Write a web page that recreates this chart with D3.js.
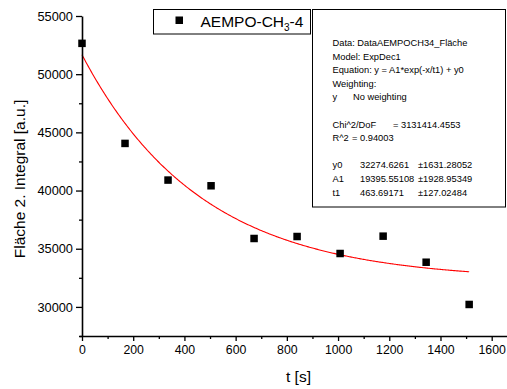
<!DOCTYPE html>
<html>
<head>
<meta charset="utf-8">
<script src="https://cdn.jsdelivr.net/npm/d3@7"></script>
<style>
  html, body { margin: 0; padding: 0; background: #fff; }
  svg { display: block; }
  text { font-family: Arial, "Liberation Sans", sans-serif; fill: #000; }
</style>
</head>
<body>
<svg id="chart" width="507" height="389"></svg>
<script>
// Measured decay series: time (s) and integrated area
const times  = [0, 168, 336, 504, 672, 840, 1008, 1176, 1344, 1512];
const values = [52650, 44050, 40900, 40410, 35880, 36050, 34590, 36080, 33840, 30210];

// ExpDec1 fit results: y = A1*exp(-x/t1) + y0
const paramNames  = ["y0", "A1", "t1"];
const paramValues = [32274.6261, 19395.55108, 463.69171];
const paramErrors = [1631.28052, 1928.95349, 127.02484];
const paramText   = ["32274.6261", "19395.55108", "463.69171"];
const errorText   = ["±1631.28052", "±1928.95349", "±127.02484"];

// Axis ticks
const xMajorTicks = [0, 200, 400, 600, 800, 1000, 1200, 1400, 1600];
const xMinorTicks = [100, 300, 500, 700, 900, 1100, 1300, 1500, 1700];
const yMajorTicks = [30000, 35000, 40000, 45000, 50000, 55000];
const yMinorTicks = [27500, 32500, 37500, 42500, 47500, 52500];

const seriesName = "AEMPO-CH";
const headerLines = [
  "Data: DataAEMPOCH34_Fläche",
  "Model: ExpDec1",
  "Equation: y = A1*exp(-x/t1) + y0",
  "Weighting:"
];

const svg = d3.select("#chart");

const x = d3.scaleLinear().domain([0, 1700]).range([82, 517.3]);
const y = d3.scaleLinear().domain([27500, 55000]).range([336, 16]);

// Fit curve
const [y0, A1, t1] = paramValues;
const tMax = d3.max(times);
const fitPts = d3.range(0, tMax + 0.001, 4).map(t => [t, A1 * Math.exp(-t / t1) + y0]);
svg.append("path")
  .datum(fitPts)
  .attr("fill", "none")
  .attr("stroke", "#ff0000")
  .attr("stroke-width", 1.1)
  .attr("d", d3.line().x(d => x(d[0])).y(d => y(d[1])));

// Data markers
const sq = 7.5;
svg.append("g").selectAll("rect")
  .data(times.map((t, i) => [t, values[i]]))
  .join("rect")
  .attr("x", d => x(d[0]) - sq / 2)
  .attr("y", d => y(d[1]) - sq / 2)
  .attr("width", sq)
  .attr("height", sq)
  .attr("fill", "#000");

// Axes
function styleAxis(g) {
  g.selectAll("path.domain").attr("stroke", "#000").attr("stroke-width", 1.6);
  g.selectAll(".tick line").attr("stroke", "#000").attr("stroke-width", 1.3);
  g.selectAll(".tick text").attr("fill", "#000");
}

const yAxis = svg.append("g").attr("transform", "translate(82,0)")
  .call(d3.axisLeft(y).tickValues(yMajorTicks).tickSize(6).tickSizeOuter(0)
    .tickPadding(3).tickFormat(d3.format("d")))
  .attr("font-size", 12.8)
  .attr("font-family", "Arial, 'Liberation Sans', sans-serif");
styleAxis(yAxis);
const yMinor = svg.append("g").attr("transform", "translate(82,0)")
  .call(d3.axisLeft(y).tickValues(yMinorTicks).tickSize(3).tickSizeOuter(0).tickFormat(""));
yMinor.select("path.domain").remove();
styleAxis(yMinor);

const xAxis = svg.append("g").attr("transform", "translate(0,336)")
  .call(d3.axisBottom(x).tickValues(xMajorTicks).tickSize(5).tickSizeOuter(0)
    .tickPadding(4).tickFormat(d3.format("d")))
  .attr("font-size", 12.3)
  .attr("font-family", "Arial, 'Liberation Sans', sans-serif");
xAxis.select("path.domain").attr("d", "M79.5,0.5H520");
styleAxis(xAxis);
const xMinor = svg.append("g").attr("transform", "translate(0,336)")
  .call(d3.axisBottom(x).tickValues(xMinorTicks).tickSize(3).tickSizeOuter(0).tickFormat(""));
xMinor.select("path.domain").remove();
styleAxis(xMinor);

// Axis titles
svg.append("text")
  .attr("transform", "translate(25,179) rotate(-90)")
  .attr("text-anchor", "middle")
  .attr("font-size", 15.5)
  .text("Fläche 2. Integral [a.u.]");

svg.append("text")
  .attr("x", 298.5).attr("y", 382)
  .attr("text-anchor", "middle")
  .attr("font-size", 15.5)
  .text("t [s]");

// Fit results box
svg.append("rect")
  .attr("x", 312.5).attr("y", 9.5).attr("width", 193).attr("height", 197.5)
  .attr("fill", "#fff").attr("stroke", "#000").attr("stroke-width", 1);

const stats = svg.append("g").attr("font-size", 9.3).attr("fill", "#1a1a1a");
const lh = 13.6, top0 = 46;
const c1 = 332.5, c2 = 360, c3 = 418;
headerLines.forEach((s, i) => {
  stats.append("text").attr("x", c1).attr("y", top0 + i * lh).text(s);
});
stats.append("text").attr("x", c1).attr("y", top0 + 4 * lh).text("y");
stats.append("text").attr("x", 353).attr("y", top0 + 4 * lh).text("No weighting");
stats.append("text").attr("x", c1).attr("y", top0 + 6 * lh).text("Chi^2/DoF");
stats.append("text").attr("x", 393).attr("y", top0 + 6 * lh).text("= 3131414.4553");
stats.append("text").attr("x", c1).attr("y", top0 + 7 * lh).text("R^2");
stats.append("text").attr("x", 352).attr("y", top0 + 7 * lh).text("=  0.94003");
paramNames.forEach((n, i) => {
  const yy = top0 + (9 + i) * lh;
  stats.append("text").attr("x", c1).attr("y", yy).text(n);
  stats.append("text").attr("x", c2).attr("y", yy).text(paramText[i]);
  stats.append("text").attr("x", c3).attr("y", yy).text(errorText[i]);
});

// Legend
svg.append("rect")
  .attr("x", 153.5).attr("y", 9.5).attr("width", 157).attr("height", 24.5)
  .attr("fill", "#fff").attr("stroke", "#000").attr("stroke-width", 1);
svg.append("rect")
  .attr("x", 175.5).attr("y", 16.5).attr("width", 7.5).attr("height", 7.5)
  .attr("fill", "#000");
const lt = svg.append("text").attr("x", 200.5).attr("y", 27).attr("font-size", 15.5);
lt.append("tspan").text(seriesName);
lt.append("tspan").attr("dy", 4).attr("font-size", 10).text("3");
lt.append("tspan").attr("dy", -4).text("-4");
</script>
</body>
</html>
